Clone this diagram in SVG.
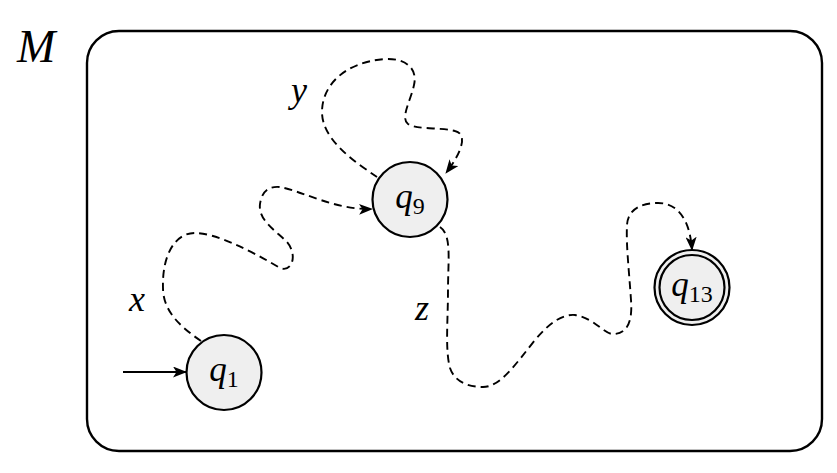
<svg xmlns="http://www.w3.org/2000/svg" width="837" height="473" viewBox="0 0 837 473">
<style>
.frame{fill:none;stroke:#000;stroke-width:2.4}
.st{fill:#efefef;stroke:#000;stroke-width:2.2}
.dash{fill:none;stroke:#000;stroke-width:1.9;stroke-dasharray:8 5}
.solid{fill:none;stroke:#000;stroke-width:1.9}
.q{font-family:"Liberation Serif","DejaVu Serif",serif;font-style:italic;font-size:35px}
.sub{font-family:"Liberation Serif","DejaVu Serif",serif;font-style:normal;font-size:24px}
.lbl{font-family:"Liberation Serif","DejaVu Serif",serif;font-style:italic;font-size:36px}
</style>
<defs>
<marker id="ah" viewBox="0 0 14 11" refX="13" refY="5.5" markerWidth="14" markerHeight="11" markerUnits="userSpaceOnUse" orient="auto">
<path d="M0,0 L14,5.5 L0,11 L3.5,5.5 Z" fill="#000"/>
</marker>
</defs>
<rect class="frame" x="87" y="31" width="735" height="420" rx="32" ry="32"/>
<text class="lbl" x="17" y="62" style="font-size:46px">M</text>
<g id="connectors">
<path class="solid" d="M123,372 L186,372" marker-end="url(#ah)"/>
<path class="dash" d="M201,341 C182,328 163,312 163,288 C162,255 175,233 195,233 C215,233 250,250 280,268 C292,273 298,255 287,242 C275,230 258,220 260,204 C262,190 270,186 280,187 C305,192 335,210 372,209" marker-end="url(#ah)"/>
<path class="dash" d="M377,177 C355,162 322,140 322,112 C322,85 345,62 385,59 C405,58 418,68 414,85 C411,100 400,118 408,124 C418,130 440,127 455,131 C468,134 462,152 446,173" marker-end="url(#ah)"/>
<path class="dash" d="M440,227 C452,235 448,260 448,290 C448,320 445,350 450,368 C455,383 470,387 483,387 C500,387 515,365 535,340 C550,322 563,314 575,315 C595,318 605,336 615,334 C625,333 633,325 631,300 C629,270 626,245 627,225 C628,208 643,203 658,203 C678,203 690,220 692,250" marker-end="url(#ah)"/>
</g>
<text class="lbl" x="129" y="311">x</text>
<text class="lbl" x="291" y="102">y</text>
<text class="lbl" x="415" y="320">z</text>
<g id="q1">
<circle class="st" cx="224" cy="372.5" r="37.5"/>
<text x="224" y="381" text-anchor="middle"><tspan class="q">q</tspan><tspan class="sub" dy="6">1</tspan></text>
</g>
<g id="q9">
<circle class="st" cx="410" cy="199.5" r="37.5"/>
<text x="410" y="208" text-anchor="middle"><tspan class="q">q</tspan><tspan class="sub" dy="6">9</tspan></text>
</g>
<g id="q13">
<circle class="st" cx="692" cy="287.5" r="37.5"/>
<circle class="st" cx="692" cy="287.5" r="32.5" stroke-width="1.7"/>
<text x="692" y="296" text-anchor="middle"><tspan class="q">q</tspan><tspan class="sub" dy="6">13</tspan></text>
</g>
</svg>
